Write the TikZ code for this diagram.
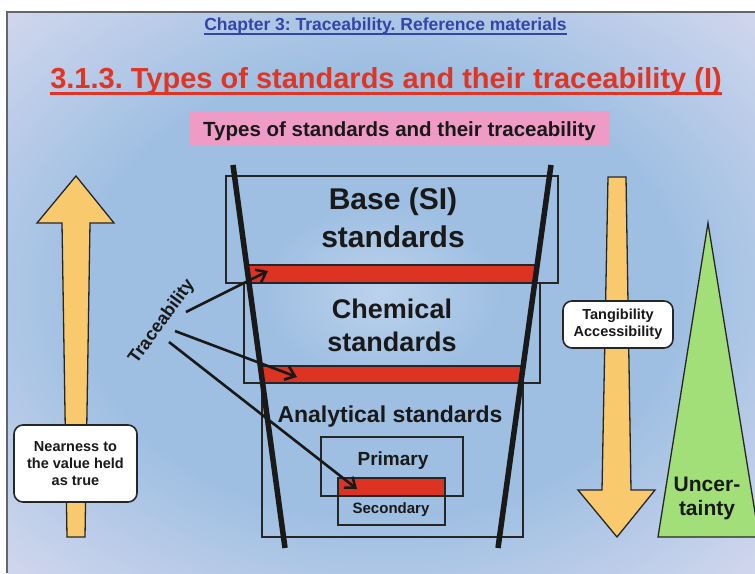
\documentclass[tikz,border=0pt]{standalone}
\usepackage{fontspec}
\setmainfont{Liberation Sans}
\usepackage{xcolor}
\usetikzlibrary{arrows.meta}
\frenchspacing

\definecolor{chapblue}{HTML}{3444A8}
\definecolor{titlered}{HTML}{E03524}
\definecolor{barred}{HTML}{DD3322}
\definecolor{pinkbox}{HTML}{EE9CC6}
\definecolor{arrowgold}{HTML}{F9C96E}
\definecolor{uncgreen}{HTML}{A2DF78}
\definecolor{bgblue}{HTML}{9EBFE2}
\definecolor{bgmid}{HTML}{BCD2EC}
\definecolor{bgedge}{HTML}{F3E6F5}

\pgfdeclareradialshading{slidebg}{\pgfpoint{0bp}{0bp}}{color(0bp)=(bgmid); color(8bp)=(bgblue); color(20bp)=(bgblue); color(34bp)=(bgblue!45!bgedge); color(44bp)=(bgblue!18!bgedge); color(50bp)=(bgedge)}

\begin{document}
\begin{tikzpicture}[
  x=1pt, y=-1pt,
  stdbox/.style={draw=black!85,line width=1.3pt,inner sep=0pt},
  redbar/.style={stdbox,fill=barred},
  tagbox/.style={draw=black!85,fill=white,rounded corners=9pt,line width=1.6pt,inner sep=0pt,align=center},
  bigarrow/.style={draw=black!85,fill=arrowgold,line width=1.3pt},
  funnel/.style={black!90,line width=5.5pt},
  tracearrow/.style={black!90,line width=2.6pt,-{Straight Barb[length=9pt,width=14pt]}},
  btext/.style 2 args={inner sep=0pt,text=black!90,font=\bfseries\fontsize{#1}{#2}\selectfont}
]
  \useasboundingbox (0,0) rectangle (755,573);
  \fill[white] (0,0) rectangle (755,573);
  \shade[shading=slidebg] (7,12) rectangle (755,573);
  \draw[black!60,line width=1.2pt] (7,573) -- (7,12) -- (755,12);

  \node[inner sep=0pt,anchor=base,text=chapblue,font=\bfseries\fontsize{17.5}{20}\selectfont] (chap) at (385.5,30.5) {Chapter 3: Traceability. Reference materials};
  \draw[chapblue,line width=2pt] ([yshift=-3.5pt]chap.base west) -- ([yshift=-3.5pt]chap.base east);
  \node[inner sep=0pt,anchor=base,text=titlered,font=\bfseries\fontsize{29}{32}\selectfont] (title) at (386,88) {3.1.3. Types of standards and their traceability (I)};
  \draw[titlered,line width=3pt] ([yshift=-5pt]title.base west) -- ([yshift=-5pt]title.base east);
  \node[btext={20.5}{24},fill=pinkbox,minimum width=421,minimum height=34,text height=17pt,text depth=0pt] (sub) at (399.5,128) {Types of standards and their traceability};

  \draw[bigarrow] (76,176) -- (114,223) -- (90,223) -- (85,537) -- (67,537) -- (62,223) -- (37,223) -- cycle;
  \draw[bigarrow] (608,177) -- (626,177) -- (631,490) -- (655,490) -- (617,537) -- (578,490) -- (602,490) -- cycle;
  \draw[draw=black!85,fill=uncgreen,line width=1.3pt] (708,223) -- (759,537) -- (658,537) -- cycle;

  \node[stdbox,minimum width=332,minimum height=107] (base) at (392,229.5) {};
  \node[stdbox,minimum width=296,minimum height=100] (chem) at (392,333) {};
  \node[stdbox,minimum width=261,minimum height=154] (anal) at (392.5,460) {};
  \node[stdbox,minimum width=142,minimum height=59] (prim) at (392,466.5) {};
  \node[stdbox,minimum width=107,minimum height=47] (sec) at (391.5,501.5) {};
  \node[redbar,minimum width=288,minimum height=18] (barA) at (392,274) {};
  \node[redbar,minimum width=261,minimum height=17] (barB) at (391.5,374.5) {};
  \node[redbar,minimum width=107,minimum height=18] (barC) at (391.5,487) {};

  \coordinate (fl1) at (233,165);
  \coordinate (fl2) at (285,548);
  \coordinate (fr1) at (551,165);
  \coordinate (fr2) at (498,548);
  \draw[funnel] (fl1) -- (fl2);
  \draw[funnel] (fr1) -- (fr2);

  \node[btext={30}{38},align=center] (basetxt) at (393,217.5) {Base (SI)\\standards};
  \node[btext={27}{33},align=center] (chemtxt) at (392,325.5) {Chemical\\standards};
  \node[btext={23}{26},anchor=base] (analtxt) at (390,422) {Analytical standards};
  \node[btext={19}{22},anchor=base] (primtxt) at (393,465) {Primary};
  \node[btext={15}{18},anchor=base] (sectxt) at (391,513) {Secondary};

  \node[btext={18}{20},rotate=54] (trace) at (162,322) {Traceability};
  \coordinate (ta) at (186,312);
  \coordinate (tb) at (175,331);
  \coordinate (tc) at (169,342);
  \coordinate (ea) at (268,271);
  \coordinate (eb) at (297,377);
  \coordinate (ec) at (357,489);
  \draw[tracearrow] (ta) -- (ea);
  \draw[tracearrow] (tb) -- (eb);
  \draw[tracearrow] (tc) -- (ec);

  \node[tagbox,btext={14.5}{17},minimum width=123,minimum height=77] (near) at (75.5,463.5) {Nearness to\\the value held\\as true};
  \node[tagbox,btext={14.5}{17},minimum width=110,minimum height=47] (tang) at (618,324.5) {Tangibility\\Accessibility};
  \node[btext={21}{24},align=center] (unc) at (707,498.5) {Uncer-\\tainty};
\end{tikzpicture}
\end{document}
